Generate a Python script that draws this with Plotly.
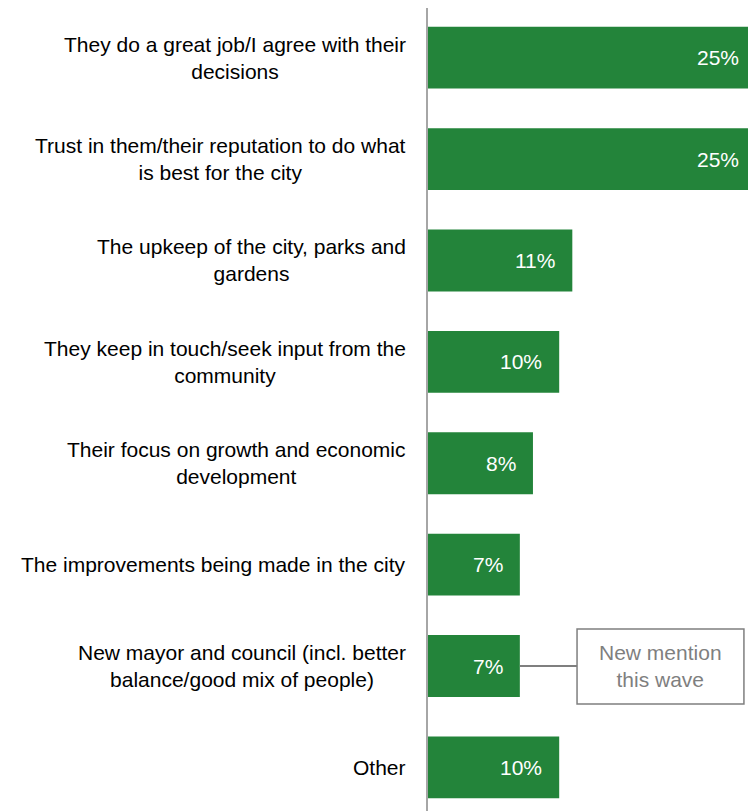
import plotly.graph_objects as go

categories = [
    "They do a great job/I agree with their<br>decisions",
    "Trust in them/their reputation to do what<br>is best for the city",
    "The upkeep of the city, parks and<br>gardens",
    "They keep in touch/seek input from the<br>community",
    "Their focus on growth and economic<br>development",
    "The improvements being made in the city",
    "New mayor and council (incl. better<br>balance/good mix of people)",
    "Other",
]
values = [25, 25, 11, 10, 8, 7, 7, 10]
value_labels = ["25%", "25%", "11%", "10%", "8%", "7%", "7%", "10%"]
note_text = "New mention<br>this wave"
note_index = 6

GREEN = "#23843A"
FONT = "Liberation Sans, Arial, sans-serif"
FS = 21

idx = list(range(len(categories)))

fig = go.Figure()
fig.add_trace(go.Bar(
    x=values, y=idx, orientation="h",
    marker=dict(color=GREEN, line=dict(width=0)),
    width=0.61, hoverinfo="skip",
))

annotations = []
for i, (c, v, t) in enumerate(zip(categories, values, value_labels)):
    annotations.append(dict(
        x=0, y=i, xref="x", yref="y", text=c, showarrow=False,
        xanchor="right", yanchor="middle", align="center", xshift=-20,
        font=dict(family=FONT, size=FS, color="#000000"),
    ))
    annotations.append(dict(
        x=v, y=i, xref="x", yref="y", text=t, showarrow=False,
        xanchor="right", yanchor="middle", xshift=-15,
        font=dict(family=FONT, size=FS, color="#FFFFFF"),
    ))

# note box
bx0, bx1 = 11.36, 24.08
annotations.append(dict(
    x=(bx0 + bx1) / 2, y=note_index, xref="x", yref="y", text=note_text,
    showarrow=False, xanchor="center", yanchor="middle", align="center",
    font=dict(family=FONT, size=FS, color="#7F7F7F"),
))

shapes = [
    dict(type="rect", xref="x", yref="y", x0=bx0, x1=bx1,
         y0=note_index - 0.366, y1=note_index + 0.374,
         line=dict(color="#7F7F7F", width=1.5), fillcolor="white"),
    dict(type="line", xref="x", yref="y", x0=values[note_index], x1=bx0,
         y0=note_index, y1=note_index,
         line=dict(color="#7F7F7F", width=2)),
]

fig.update_layout(
    width=748, height=803,
    margin=dict(l=420, r=0, t=0, b=0),
    paper_bgcolor="white", plot_bgcolor="white",
    showlegend=False,
    annotations=annotations, shapes=shapes,
    xaxis=dict(range=[0, 25], visible=False, fixedrange=True),
    yaxis=dict(range=[7.43, -0.49], showticklabels=False, showgrid=False,
               zeroline=False, showline=True, linecolor="#A6A6A6", linewidth=2,
               ticks="", fixedrange=True),
)

fig.write_html(
    "out.html",
    post_script="document.documentElement.style.overflow='hidden';document.body.style.overflow='hidden';",
)
